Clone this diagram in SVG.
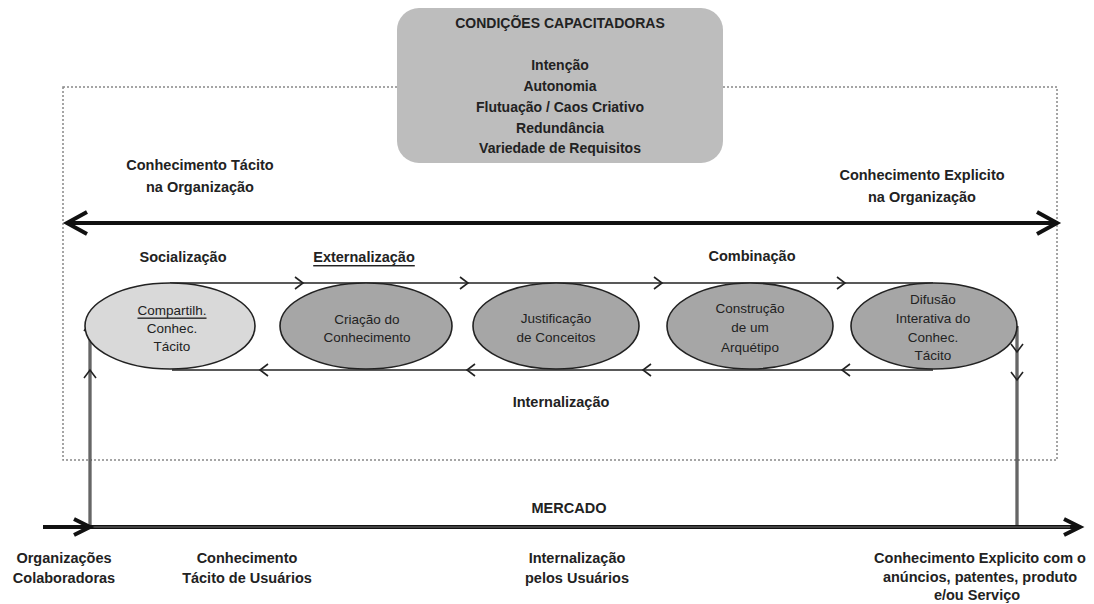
<svg xmlns="http://www.w3.org/2000/svg" xmlns:xlink="http://www.w3.org/1999/xlink" width="1094" height="604" viewBox="0 0 1094 604">
<style>
text{font-family:"Liberation Sans",Arial,sans-serif;fill:#222;text-anchor:middle;dominant-baseline:central}
.b{font-weight:bold;font-size:14.5px}
.t{font-weight:bold;font-size:14px}
.e{font-size:13.5px}
.ell{stroke:#222;stroke-width:1.6}
.flow{fill:none;stroke:#222;stroke-width:1.6}
.vert{fill:none;stroke:#333;stroke-width:3}
.vin{fill:none;stroke:#999;stroke-width:1}
.thick{fill:none;stroke:#111;stroke-width:4}
.tin{fill:none;stroke:#777;stroke-width:1}
.chev{fill:none;stroke:#222;stroke-width:1.6;stroke-linejoin:miter}
.bchev{fill:none;stroke:#111;stroke-width:4;stroke-linejoin:miter}
</style>
<defs>
<path id="chev" d="M-8,-6 L0,0 L-8,6"/>
<path id="bchev" d="M-20,-11 L0,0 L-20,11"/>
<path id="mchev" d="M-16,-8 L0,0 L-16,8"/>
</defs>
<rect width="1094" height="604" fill="#fff"/>
<g id="frame">
<rect x="63" y="87" width="994" height="373" fill="none" stroke="#888" stroke-width="1.5" stroke-dasharray="2,2"/>
</g>
<g id="condicoes">
<rect x="397" y="8" width="326" height="155" rx="22" fill="#bdbdbd"/>
<text class="t" x="560" y="23">CONDIÇÕES CAPACITADORAS</text>
<text class="t" x="560" y="65">Intenção</text>
<text class="t" x="560" y="86">Autonomia</text>
<text class="t" x="560" y="107">Flutuação / Caos Criativo</text>
<text class="t" x="560" y="128">Redundância</text>
<text class="t" x="560" y="148">Variedade de Requisitos</text>
</g>
<g id="labels">
<text class="b" x="200" y="165">Conhecimento Tácito</text>
<text class="b" x="200" y="187">na Organização</text>
<text class="b" x="922" y="175">Conhecimento Explicito</text>
<text class="b" x="922" y="197">na Organização</text>
<text class="b" x="183" y="257">Socialização</text>
<text class="b" x="364" y="257" text-decoration="underline">Externalização</text>
<text class="b" x="752" y="256">Combinação</text>
<text class="b" x="561" y="402">Internalização</text>
<text class="b" x="569" y="508">MERCADO</text>
<text class="b" x="64" y="558">Organizações</text>
<text class="b" x="64" y="578">Colaboradoras</text>
<text class="b" x="247" y="558">Conhecimento</text>
<text class="b" x="247" y="578">Tácito de Usuários</text>
<text class="b" x="577" y="558">Internalização</text>
<text class="b" x="577" y="578">pelos Usuários</text>
<text class="b" x="980" y="558">Conhecimento Explicito com o</text>
<text class="b" x="980" y="577">anúncios, patentes, produto</text>
<text class="b" x="977" y="595">e/ou Serviço</text>
</g>
<g id="connectors">
<line class="thick" x1="69" y1="223" x2="1055" y2="223"/>
<use href="#bchev" class="bchev" transform="translate(67,223) rotate(180)"/>
<use href="#bchev" class="bchev" transform="translate(1057,223)"/>
<line class="vert" x1="90" y1="527" x2="90" y2="313"/>
<line class="vin" x1="90" y1="525" x2="90" y2="315"/>
<line class="vert" x1="1017" y1="326" x2="1017" y2="527"/>
<line class="vin" x1="1017" y1="328" x2="1017" y2="525"/>
<line class="thick" x1="43" y1="527" x2="1078" y2="527"/>
<line class="tin" x1="92" y1="527" x2="1070" y2="527"/>
<use href="#mchev" class="bchev" transform="translate(90,527)"/>
<use href="#mchev" class="bchev" transform="translate(1080,527)"/>
<line class="flow" x1="170" y1="283" x2="933" y2="283"/>
<use href="#chev" class="chev" transform="translate(303,283)"/>
<use href="#chev" class="chev" transform="translate(468,283)"/>
<use href="#chev" class="chev" transform="translate(662,283)"/>
<use href="#chev" class="chev" transform="translate(845,283)"/>
<line class="flow" x1="172" y1="370" x2="933" y2="370"/>
<use href="#chev" class="chev" transform="translate(260,370) rotate(180)"/>
<use href="#chev" class="chev" transform="translate(467,370) rotate(180)"/>
<use href="#chev" class="chev" transform="translate(643,370) rotate(180)"/>
<use href="#chev" class="chev" transform="translate(842,370) rotate(180)"/>
<use href="#chev" class="chev" transform="translate(90,323) rotate(-90)"/>
<use href="#chev" class="chev" transform="translate(90,370) rotate(-90)"/>
<use href="#chev" class="chev" transform="translate(1017,352) rotate(90)"/>
<use href="#chev" class="chev" transform="translate(1017,380) rotate(90)"/>
</g>
<g id="n1">
<ellipse class="ell" cx="170" cy="326" rx="85" ry="43" fill="#d9d9d9"/>
<text class="e" x="172" y="310" text-decoration="underline">Compartilh.</text>
<text class="e" x="172" y="328">Conhec.</text>
<text class="e" x="172" y="346">Tácito</text>
</g>
<g id="n2">
<ellipse class="ell" cx="366" cy="326" rx="86" ry="43" fill="#a6a6a6"/>
<text class="e" x="367" y="319">Criação do</text>
<text class="e" x="367" y="337">Conhecimento</text>
</g>
<g id="n3">
<ellipse class="ell" cx="556" cy="326" rx="83" ry="43" fill="#a6a6a6"/>
<text class="e" x="556" y="318">Justificação</text>
<text class="e" x="556" y="337">de Conceitos</text>
</g>
<g id="n4">
<ellipse class="ell" cx="750" cy="326" rx="83" ry="43" fill="#a6a6a6"/>
<text class="e" x="750" y="308">Construção</text>
<text class="e" x="750" y="327">de um</text>
<text class="e" x="750" y="347">Arquétipo</text>
</g>
<g id="n5">
<ellipse class="ell" cx="934" cy="326" rx="83" ry="43" fill="#a6a6a6"/>
<text class="e" x="933" y="299">Difusão</text>
<text class="e" x="933" y="318">Interativa do</text>
<text class="e" x="933" y="337">Conhec.</text>
<text class="e" x="933" y="355">Tácito</text>
</g>
</svg>
